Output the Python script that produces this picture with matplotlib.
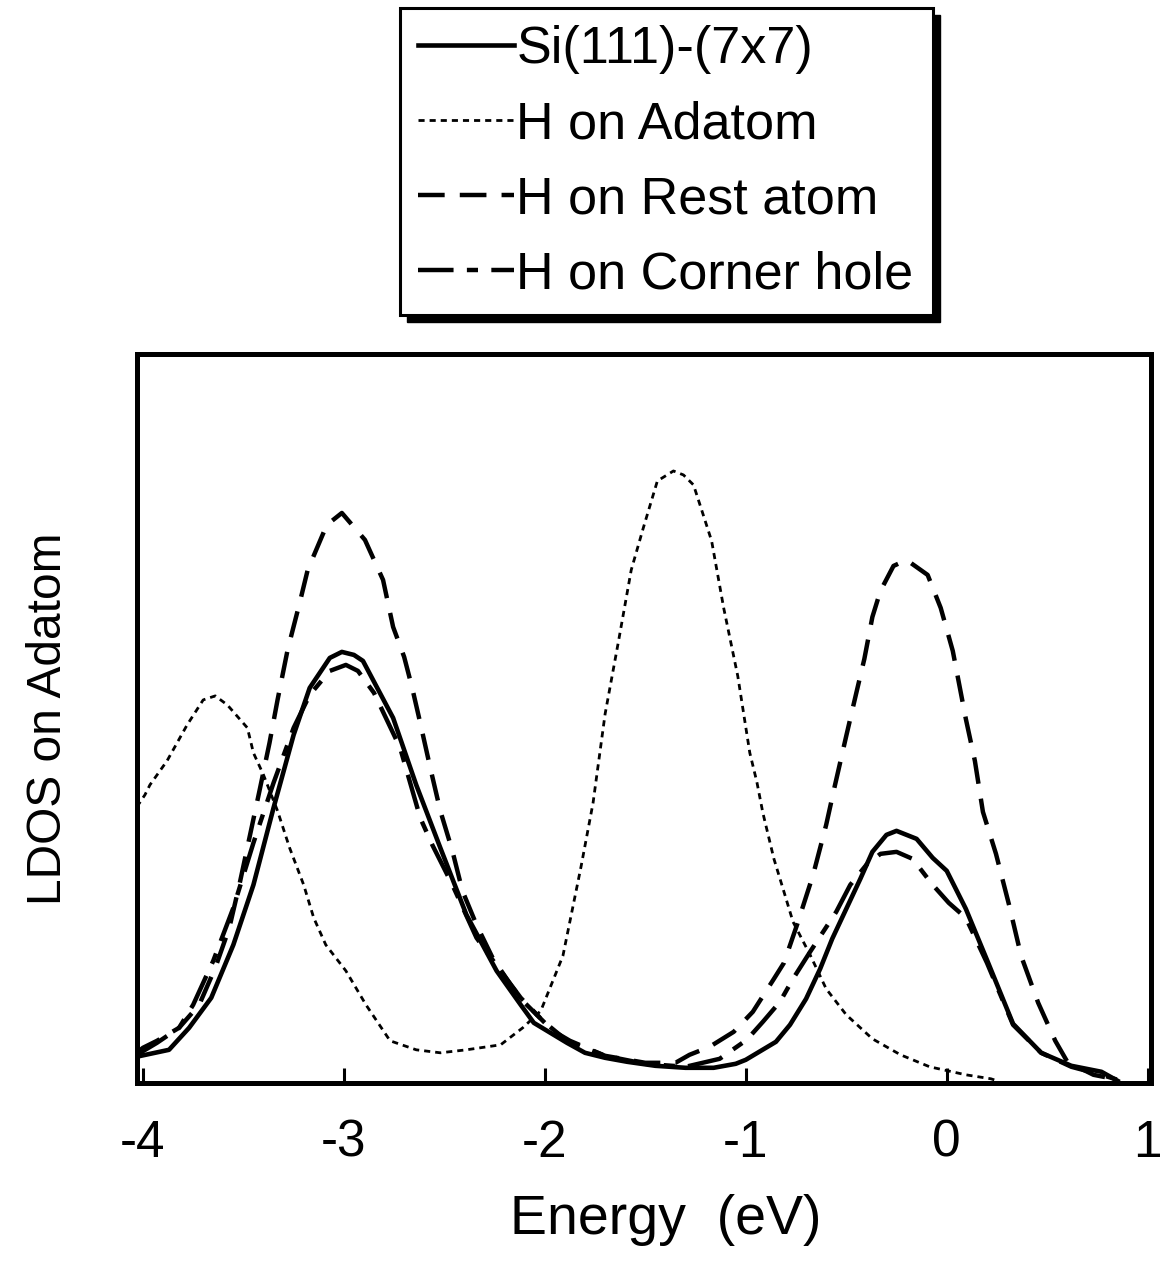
import numpy as np
import matplotlib
matplotlib.use("Agg")
import matplotlib.pyplot as plt
from matplotlib.patches import Rectangle

plt.rcParams['font.family'] = ['Liberation Sans', 'DejaVu Sans']

# ---- data (arbitrary LDOS units) ----
si_e = [-4.03, -4.01, -3.87, -3.77, -3.66, -3.55, -3.45, -3.35, -3.25, -3.17,
        -3.07, -3.01, -2.95, -2.905, -2.755, -2.64, -2.52, -2.39, -2.24, -2.12,
        -2.055, -1.89, -1.80, -1.70, -1.59, -1.45, -1.30, -1.16, -1.05, -1.0,
        -0.85, -0.78, -0.70, -0.63, -0.57, -0.50, -0.43, -0.37, -0.30, -0.25,
        -0.15, -0.07, 0.0, 0.095, 0.20, 0.33, 0.47, 0.62, 0.77, 0.85]
si_v = [26, 27, 33, 55, 85, 138, 198, 275, 348, 395,
        425, 431, 428, 422, 365, 298, 235, 168, 112, 78,
        60, 40, 30, 25, 21, 17, 15, 15, 19, 23,
        41, 58, 84, 114, 144, 174, 204, 231, 248, 252,
        244, 225, 212, 174, 123, 59, 30, 17, 11, 2]

ad_e = [-4.03, -3.99, -3.965, -3.88, -3.78, -3.70, -3.64, -3.58, -3.48, -3.45,
        -3.40, -3.33, -3.27, -3.20, -3.15, -3.09, -2.99, -2.89, -2.77, -2.64,
        -2.52, -2.39, -2.22, -2.11, -2.02, -1.91, -1.82, -1.76, -1.70, -1.634,
        -1.57, -1.51, -1.44, -1.36, -1.31, -1.26, -1.21, -1.17, -1.11, -1.04,
        -0.98, -0.945, -0.915, -0.86, -0.81, -0.765, -0.68, -0.60, -0.50, -0.37,
        -0.23, -0.085, 0.095, 0.22, 0.25]
ad_v = [276, 288, 298, 322, 358, 383, 387, 378, 355, 330,
        308, 272, 235, 198, 165, 138, 112, 78, 42, 33,
        30, 33, 38, 55, 72, 127, 216, 280, 369, 441,
        513, 555, 602, 612, 608, 598, 567, 542, 475, 407,
        330, 301, 270, 224, 191, 161, 128, 94, 68, 44,
        28, 16, 8, 4, 2]

ra_e = [-4.03, -4.0, -3.93, -3.82, -3.72, -3.64, -3.57, -3.52, -3.47, -3.42,
        -3.37, -3.33, -3.28, -3.22, -3.18, -3.085, -3.01, -2.895, -2.805, -2.755,
        -2.70, -2.66, -2.62, -2.57, -2.52, -2.46, -2.41, -2.34, -2.26, -2.17,
        -2.11, -1.96, -1.875, -1.70, -1.50, -1.35, -1.28, -1.18, -1.06, -0.965,
        -0.86, -0.81, -0.745, -0.665, -0.60, -0.557, -0.50, -0.45, -0.41, -0.37,
        -0.33, -0.265, -0.20, -0.095, -0.03, 0.03, 0.095, 0.14, 0.18, 0.245,
        0.31, 0.37, 0.455, 0.54, 0.60, 0.73, 0.83]
ra_v = [30, 35, 42, 55, 78, 115, 155, 198, 245, 292,
        340, 383, 433, 480, 513, 558, 570, 543, 503, 456,
        426, 395, 360, 315, 272, 232, 192, 158, 125, 98,
        82, 52, 42, 27, 20, 20, 28, 36, 51, 71,
        104, 120, 158, 208, 258, 297, 347, 390, 424, 466,
        492, 517, 523, 508, 475, 432, 364, 322, 271, 229,
        178, 127, 80, 42, 21, 8, 4]

ch_e = [-4.03, -3.93, -3.82, -3.75, -3.65, -3.55, -3.45, -3.35, -3.25, -3.17,
        -3.07, -2.99, -2.93, -2.85, -2.72, -2.62, -2.56, -2.46, -2.34, -2.22,
        -2.12, -2.01, -1.89, -1.70, -1.50, -1.30, -1.13, -0.995, -0.915, -0.83,
        -0.765, -0.68, -0.615, -0.55, -0.48, -0.40, -0.33, -0.25, -0.17, -0.07,
        0.01, 0.095, 0.20, 0.33, 0.47, 0.62, 0.77, 0.85]
ch_v = [28, 40, 55, 78, 122, 175, 240, 300, 355, 388,
        412, 418, 412, 390, 335, 265, 238, 198, 145, 112,
        85, 62, 42, 27, 19, 16, 24, 43, 61, 81,
        104, 131, 151, 171, 198, 218, 229, 231, 224, 198,
        180, 165, 120, 58, 30, 16, 8, 3]

labels = ['Si(111)-(7x7)', 'H on Adatom', 'H on Rest atom', 'H on Corner hole']
xticks = [-4, -3, -2, -1, 0, 1]

fig = plt.figure(figsize=(11.6, 12.62), dpi=100)
ax = fig.add_axes([0.118, 0.142, 0.874, 0.5775])

h1, = ax.plot(si_e, si_v, color='black', lw=3.3, ls='-')
h2, = ax.plot(ad_e, ad_v, color='black', lw=2.0, ls=(0, (2.2, 1.8)))
h3, = ax.plot(ra_e, ra_v, color='black', lw=3.2, ls=(0, (6.0, 3.4)))
h4, = ax.plot(ch_e, ch_v, color='black', lw=3.2, ls=(0, (8.0, 3.0, 2.5, 3.0)))

ax.set_xlim(-4.03, 1.015)
ax.set_ylim(0, 729)
ax.set_xticks(xticks)
ax.set_xticklabels([str(t) for t in xticks])
ax.set_yticks([])
ax.tick_params(axis='x', direction='in', length=11, width=2.2, pad=26, labelsize=37)
for s in ax.spines.values():
    s.set_linewidth(3.6)

ax.set_xlabel('Energy  (eV)', fontsize=40)
ax.xaxis.set_label_coords(0.522, -0.152)
ax.set_ylabel('LDOS on Adatom', fontsize=34.5)
ax.yaxis.set_label_coords(-0.065, 0.5)

# legend box with solid black drop shadow, above the axes
fig.patches.append(Rectangle((0.3509, 0.7449), 0.4595, 0.2433, transform=fig.transFigure,
                             facecolor='black', edgecolor='black', zorder=1))
fig.patches.append(Rectangle((0.3448, 0.7504), 0.4595, 0.2433, transform=fig.transFigure,
                             facecolor='white', edgecolor='black', lw=2.2, zorder=2))
fig.legend([h1, h2, h3, h4], labels, loc='center', bbox_to_anchor=(0.574, 0.8716),
           frameon=False, fontsize=37.5, handlelength=1.84, handletextpad=0.05,
           labelspacing=0.5, borderaxespad=0)

fig.savefig('out.png', dpi=100)
